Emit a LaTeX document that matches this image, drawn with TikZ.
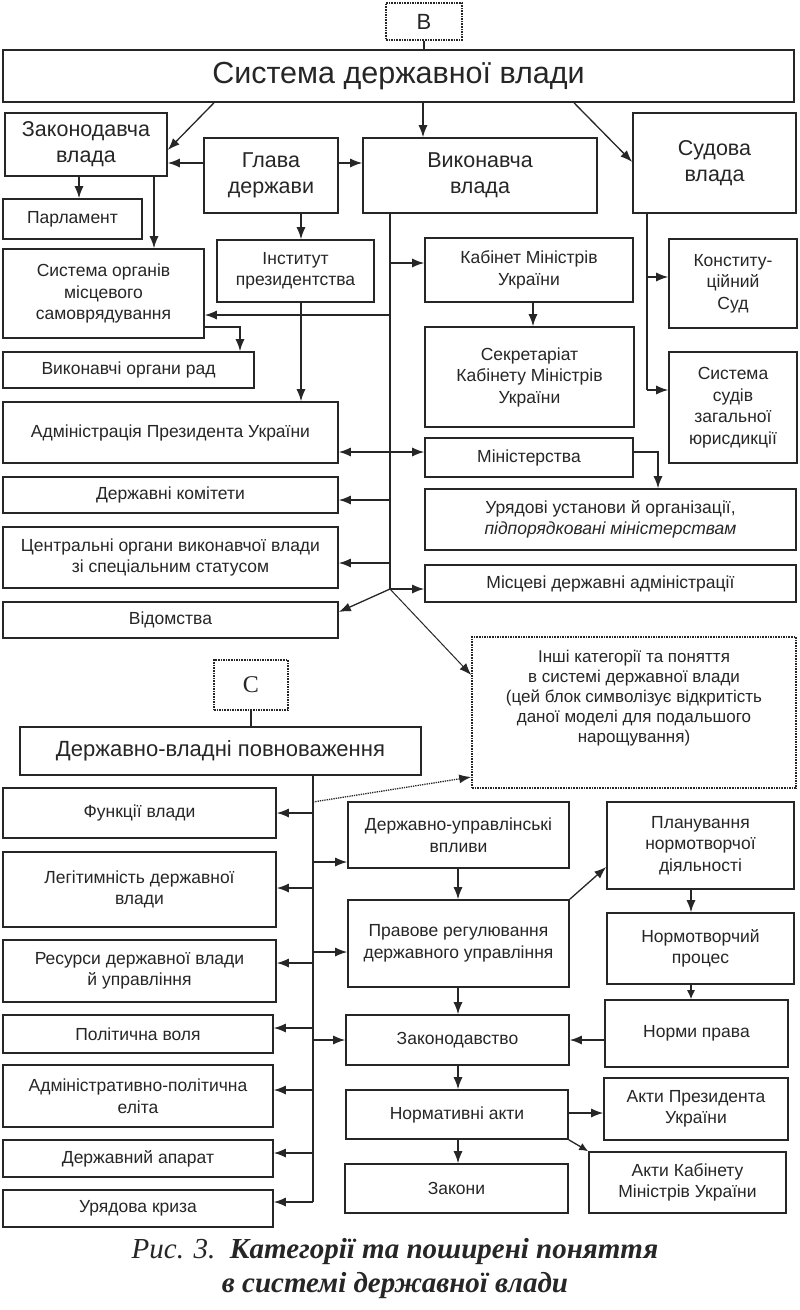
\documentclass[tikz,border=0pt]{standalone}
\usepackage{fontspec}
\setmainfont{Liberation Sans}
\newfontfamily\capfont{Liberation Serif}
\usetikzlibrary{arrows.meta}
\newcommand{\bx}[7][]{\node[box,#1,minimum width={#5-#3},minimum height={#6-#4}] (#2) at ({(#3+#5)/2},{(#4+#6)/2}) {#7};}
\begin{document}
\begin{tikzpicture}[x=1pt,y=-1pt,
  box/.style={draw=black!85,line width=1.6pt,align=center,inner sep=1pt,text=black!85,
    font=\fontsize{17.5}{21.5}\selectfont},
  bigtxt/.style={font=\fontsize{21.5}{26}\selectfont},
  dotbox/.style={densely dotted,line width=1.6pt},
  conn/.style={draw=black!85,line width=1.3pt},
  arr/.style={conn,-{Latex[length=12pt,width=9pt]}},
  sarr/.style={conn,-{Latex[length=9pt,width=8pt]}},
  darr/.style={conn,{Latex[length=12pt,width=9pt]}-{Latex[length=12pt,width=9pt]}}]
\useasboundingbox[fill=white] (0,0) rectangle (800,1310);
% ---- top section
\bx[dotbox,font=\fontsize{22}{24}\selectfont]{B}{386}{3}{462}{40}{B}
\bx[font=\fontsize{30.5}{34}\selectfont]{sys}{3}{50}{794}{102}{Система державної влади}
\bx[bigtxt]{zak}{5}{113}{167}{176}{Законодавча\\влада}
\bx[bigtxt]{glava}{204}{138}{338}{213}{Глава\\держави}
\bx[bigtxt]{vyk}{363}{138}{597}{213}{Виконавча\\влада}
\bx[bigtxt]{sud}{633}{113}{796}{213}{Судова\\влада}
\bx{parl}{3}{199}{142}{239}{Парламент}
\bx{ist}{217}{240}{374}{302}{Інститут\\президентства}
\bx{sorg}{3}{249}{204}{338}{Система органів\\місцевого\\самоврядування}
\bx{kab}{425}{238}{633}{302}{Кабінет Міністрів\\України}
\bx{konst}{669}{239}{797}{328}{Конститу-\\ційний\\Суд}
\bx{sekr}{425}{327}{634}{427}{Секретаріат\\Кабінету Міністрів\\України}
\bx{vykor}{3}{352}{254}{388}{Виконавчі органи рад}
\bx{ssud}{669}{352}{797}{463}{Система\\судів\\загальної\\юрисдикції}
\bx{adm}{3}{402}{338}{463}{Адміністрація Президента України}
\bx{min}{425}{438}{633}{477}{Міністерства}
\bx{dk}{3}{477}{338}{513}{Державні комітети}
\bx{ur}{425}{489}{796}{550}{Урядові установи й організації,\\\textit{підпорядковані міністерствам}}
\bx{czo}{3}{527}{338}{588}{Центральні органи виконавчої влади\\зі спеціальним статусом}
\bx{mda}{425}{565}{796}{602}{Місцеві державні адміністрації}
\bx{vid}{3}{602}{338}{638}{Відомства}
\bx[dotbox]{inshi}{472}{637}{796}{788}{}
\node[font=\fontsize{17}{20}\selectfont,align=center,text=black!85] (inshitxt) at ([yshift=14pt]inshi.center) {Інші категорії та поняття\\в системі державної влади\\(цей блок символізує відкритість\\даної моделі для подальшого\\нарощування)};
% ---- bottom section
\bx[dotbox,font=\capfont\fontsize{24}{26}\selectfont]{C}{214}{660}{288}{710}{C}
\bx[font=\fontsize{22}{26}\selectfont]{dvp}{20}{727}{421}{775}{Державно-владні повноваження}
\bx{fv}{3}{788}{276}{838}{Функції влади}
\bx{leg}{3}{852}{276}{927}{Легітимність державної\\влади}
\bx{res}{3}{940}{276}{1002}{Ресурси державної влади\\й управління}
\bx{pv}{3}{1015}{273}{1053}{Політична воля}
\bx{ape}{3}{1065}{273}{1127}{Адміністративно-політична\\еліта}
\bx{da}{3}{1140}{273}{1177}{Державний апарат}
\bx{uk}{3}{1190}{273}{1227}{Урядова криза}
\bx{duv}{348}{802}{569}{868}{Державно-управлінські\\впливи}
\bx{prr}{348}{900}{569}{987}{Правове регулювання\\державного управління}
\bx{zakd}{346}{1015}{569}{1065}{Законодавство}
\bx{na}{346}{1090}{568}{1139}{Нормативні акти}
\bx{zakony}{345}{1164}{568}{1213}{Закони}
\bx{plan}{607}{802}{794}{889}{Планування\\нормотворчої\\діяльності}
\bx{ntp}{607}{913}{794}{984}{Нормотворчий\\процес}
\bx{np}{605}{1000}{788}{1067}{Норми права}
\bx{akp}{604}{1078}{788}{1140}{Акти Президента\\України}
\bx{akk}{589}{1152}{786}{1213}{Акти Кабінету\\Міністрів України}
% caption
\node[font=\capfont\fontsize{29}{32}\selectfont\itshape,text=black!85] (cap1) at (395,1252) {Рис. 3.\ \ \textbf{Категорії та поширені поняття}};
\node[font=\capfont\fontsize{29}{32}\selectfont\itshape\bfseries,text=black!85] (cap2) at (395,1286) {в системі державної влади};
% ---- connectors top
\coordinate (vt) at (390,589);
\coordinate (st) at (647,390);
\coordinate (bt) at (313,1202);
\draw[conn] (B.south) -- (B.south |- sys.north);
\draw[arr] (sys.south -| 214,0) -- (zak.east |- 0,150);
\draw[arr] (sys.south -| 423,0) -- (vyk.north -| 423,0);
\draw[arr] (sys.south -| 574,0) -- (sud.west |- 0,162);
\draw[arr] (glava.west |- 0,163) -- (zak.east |- 0,163);
\draw[arr] (glava.east |- 0,163) -- (vyk.west |- 0,163);
\draw[arr] (zak.south -| 79,0) -- (parl.north -| 79,0);
\draw[arr] (zak.south -| 154,0) -- (sorg.north -| 154,0);
\draw[arr] (glava.south -| 301,0) -- (ist.north -| 301,0);
\draw[arr] (ist.south -| 301,0) -- (adm.north -| 301,0);
\draw[conn] (vyk.south -| vt) -- (vt);
\draw[arr] (vt |- 0,263) -- (kab.west |- 0,263);
\draw[arr] (vt |- 0,315) -- (sorg.east |- 0,315);
\draw[arr] (sorg.east |- 0,327) -| (vykor.north -| 240,0);
\draw[arr] (kab.south -| 533,0) -- (sekr.north -| 533,0);
\draw[darr] (adm.east |- 0,452) -- (min.west |- 0,452);
\draw[arr] (min.east |- 0,452) -| (ur.north -| 658,0);
\draw[arr] (vt |- 0,500) -- (dk.east |- 0,500);
\draw[arr] (vt |- 0,563) -- (czo.east |- 0,563);
\draw[arr] (vt) -- (mda.west |- vt);
\draw[arr] (vt) -- (vid.east |- 0,612);
\draw[arr,line width=1pt] (vt) -- (inshi.west |- 0,675);
\draw[conn] (sud.south -| st) -- (st);
\draw[arr] (st |- 0,277) -- (konst.west |- 0,277);
\draw[arr] (st) -- (ssud.west |- st);
% ---- connectors bottom
\draw[conn] (C.south) -- (C.south |- dvp.north);
\draw[conn] (dvp.south -| bt) -- (bt);
\draw[arr,densely dotted,line width=1.3pt] (bt |- 0,802) -- (inshi.west |- 0,777);
\draw[arr] (bt |- 0,813) -- (fv.east |- 0,813);
\draw[arr] (bt |- 0,888) -- (leg.east |- 0,888);
\draw[arr] (bt |- 0,963) -- (res.east |- 0,963);
\draw[arr] (bt |- 0,1028) -- (pv.east |- 0,1028);
\draw[arr] (bt |- 0,1090) -- (ape.east |- 0,1090);
\draw[arr] (bt |- 0,1153) -- (da.east |- 0,1153);
\draw[arr] (bt) -- (uk.east |- bt);
\draw[arr] (bt |- 0,862) -- (duv.west |- 0,862);
\draw[arr] (bt |- 0,952) -- (prr.west |- 0,952);
\draw[arr] (bt |- 0,1040) -- (zakd.west |- 0,1040);
\draw[arr] (duv.south -| 458,0) -- (prr.north -| 458,0);
\draw[arr] (prr.south -| 458,0) -- (zakd.north -| 458,0);
\draw[arr] (zakd.south -| 458,0) -- (na.north -| 458,0);
\draw[arr] (na.south -| 458,0) -- (zakony.north -| 458,0);
\draw[arr] (prr.north east) -- (plan.west |- 0,867);
\draw[arr] (plan.south -| 691,0) -- (ntp.north -| 691,0);
\draw[sarr] (ntp.south -| 691,0) -- (np.north -| 691,0);
\draw[arr] (np.west |- 0,1040) -- (zakd.east |- 0,1040);
\draw[arr] (na.east |- 0,1113) -- (akp.west |- 0,1113);
\draw[sarr] (na.south east) -- (akk.north west);
\end{tikzpicture}
\end{document}
